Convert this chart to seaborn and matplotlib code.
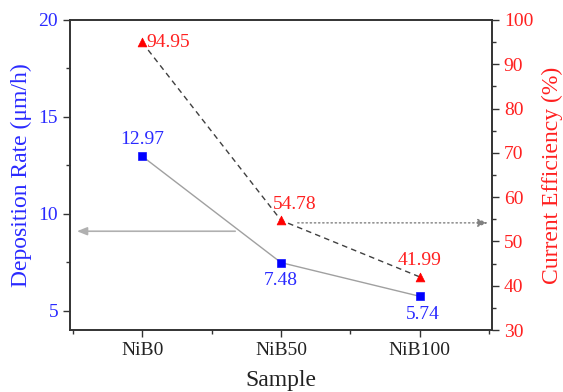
import matplotlib
matplotlib.use("Agg")
import matplotlib.pyplot as plt
import seaborn as sns
import pandas as pd
from matplotlib.ticker import MultipleLocator

samples = ["NiB0", "NiB50", "NiB100"]
deposition_rate = [12.97, 7.48, 5.74]
current_efficiency = [94.95, 54.78, 41.99]

sns.set_theme(style="ticks")
plt.rcParams['font.family'] = ['Liberation Serif', 'DejaVu Serif']

df = pd.DataFrame({"Sample": samples, "pos": range(len(samples)),
                   "Rate": deposition_rate, "Eff": current_efficiency})

fig = plt.figure(figsize=(5.63, 3.92), dpi=100)
ax = fig.add_axes([0.1243, 0.158, 0.7497, 0.791])
ax2 = ax.twinx()

sns.lineplot(data=df, x="pos", y="Rate", ax=ax, color="#a0a0a0", lw=1.0, zorder=2)
sns.scatterplot(data=df, x="pos", y="Rate", ax=ax, color="blue", marker="s", s=30,
                edgecolor="blue", zorder=3)
sns.lineplot(data=df, x="pos", y="Eff", ax=ax2, color="#404040", lw=1.0, ls=(0, (4, 3)), zorder=2)
sns.scatterplot(data=df, x="pos", y="Eff", ax=ax2, color="red", marker="^", s=40,
                edgecolor="red", zorder=3)

ax.set_xlim(-0.52, 2.52)
ax.set_ylim(4, 20)
ax2.set_ylim(30, 100)
ax.set_xticks(range(len(samples)))
ax.set_xticklabels(samples)
ax.xaxis.set_minor_locator(MultipleLocator(0.5))
ax.yaxis.set_major_locator(MultipleLocator(5))
ax.yaxis.set_minor_locator(MultipleLocator(2.5))
ax2.yaxis.set_major_locator(MultipleLocator(10))
ax2.yaxis.set_minor_locator(MultipleLocator(5))

ax.set_xlabel("Sample", fontsize=17, color="#222222", labelpad=8)
ax.set_ylabel("Deposition Rate (μm/h)", fontsize=17, color="#2a2aff", labelpad=5)
ax2.set_ylabel("Current Efficiency (%)", fontsize=17, color="#ff2020", labelpad=6)

for a in (ax, ax2):
    for sp in a.spines.values():
        sp.set_color("#333333")
        sp.set_linewidth(1.2)
    a.tick_params(which="major", length=5, width=1, color="#333333", labelsize=14)
    a.tick_params(which="minor", length=3, width=1, color="#333333")
ax.tick_params(axis="y", labelcolor="#2a2aff", which="both")
ax2.tick_params(axis="y", labelcolor="#ff2020", which="both")
ax.tick_params(axis="x", labelcolor="#222222")

fs = 14
ax.annotate(f"{deposition_rate[0]:.2f}", (0, deposition_rate[0]), xytext=(0, 6),
            textcoords="offset points", ha="center", va="bottom", color="#2a2aff", fontsize=fs)
ax.annotate(f"{deposition_rate[1]:.2f}", (1, deposition_rate[1]), xytext=(0, -7),
            textcoords="offset points", ha="center", va="top", color="#2a2aff", fontsize=fs)
ax.annotate(f"{deposition_rate[2]:.2f}", (2, deposition_rate[2]), xytext=(2, -7),
            textcoords="offset points", ha="center", va="top", color="#2a2aff", fontsize=fs)
ax2.annotate(f"{current_efficiency[0]:.2f}", (0, current_efficiency[0]), xytext=(3, 0),
             textcoords="offset points", ha="left", va="center", color="#ff2020", fontsize=fs)
ax2.annotate(f"{current_efficiency[1]:.2f}", (1, current_efficiency[1]), xytext=(-6, 5),
             textcoords="offset points", ha="left", va="bottom", color="#ff2020", fontsize=fs)
ax2.annotate(f"{current_efficiency[2]:.2f}", (2, current_efficiency[2]), xytext=(0, 6),
             textcoords="offset points", ha="center", va="bottom", color="#ff2020", fontsize=fs)

ax.annotate("", xy=(-0.47, 9.1), xytext=(0.67, 9.1),
            arrowprops=dict(arrowstyle="-|>,head_length=0.5,head_width=0.2", color="#b0b0b0",
                            lw=1.2, shrinkA=0, shrinkB=0), zorder=1)
ax2.annotate("", xy=(2.49, 54.2), xytext=(1.12, 54.2),
             arrowprops=dict(arrowstyle="-|>,head_length=0.5,head_width=0.2", color="#808080",
                             lw=1.0, ls=(0, (1, 2)), shrinkA=0, shrinkB=0), zorder=1)
for a in (ax, ax2):
    leg = a.get_legend()
    if leg:
        leg.remove()

fig.savefig("out.png", dpi=100)
